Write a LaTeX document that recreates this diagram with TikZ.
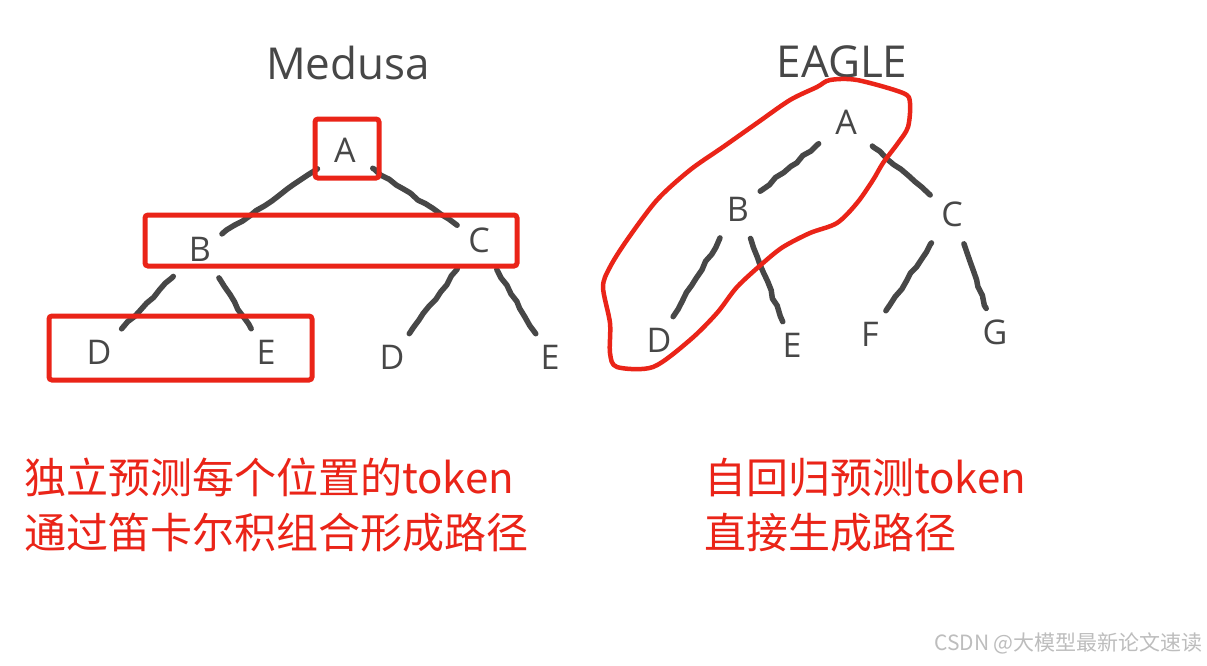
\documentclass[tikz,border=0pt]{standalone}
\usepackage{fontspec}
\setmainfont{Open Sans}
\newfontfamily\cjk{Noto Sans CJK SC}
\usepackage{tikz}
\usetikzlibrary{decorations.pathmorphing}
\definecolor{ink}{HTML}{474747}
\definecolor{pen}{HTML}{EA2418}
\definecolor{mark}{HTML}{BDBDBD}
\tikzset{
  letter/.style={font=\fontsize{34}{34}\selectfont, text=ink, inner sep=10pt},
  title/.style={font=\fontsize{44}{44}\selectfont, text=ink},
  edge/.style={draw=ink, line width=5.5pt, line cap=round, line join=round,
               shorten <=8pt, shorten >=1pt,
               decorate, decoration={random steps, segment length=9pt, amplitude=1.1pt}},
  redbox/.style={draw=pen, line width=5pt, rounded corners=3pt},
  blob/.style={draw=pen, line width=4.5pt, line join=round},
  note/.style={font=\cjk\fontsize{42}{55}\selectfont, text=pen, align=left, anchor=west, inner sep=0pt}
}
\begin{document}
\begin{tikzpicture}[x=1pt, y=-1pt]
  \pgfmathsetseed{11}
  \useasboundingbox[fill=white] (0,0) rectangle (1207,665);
  % Medusa
  \node[title] (mtitle) at (348,63) {Medusa};
  \node[letter] (mA) at (345,150) {A};
  \node[letter] (mB) at (200,249) {B};
  \node[letter] (mC) at (479,240) {C};
  \node[letter] (mD) at (99,352) {D};
  \node[letter] (mE) at (266,352) {E};
  \node[letter] (mD2) at (392,357) {D};
  \node[letter] (mE2) at (550,357) {E};
  \foreach \a/\b in {mA/mB,mA/mC,mB/mD,mB/mE,mC/mD2,mC/mE2} \draw[edge] (\a)--(\b);
  \draw[redbox] (315,119) rectangle (379,178);
  \draw[redbox] (145,215) rectangle (517,266);
  \draw[redbox] (49,316) rectangle (312,380);
  % EAGLE
  \node[title] (etitle) at (842,62) {EAGLE};
  \node[letter] (eA) at (846,122) {A};
  \node[letter] (eB) at (738,209) {B};
  \node[letter] (eC) at (952,214) {C};
  \node[letter] (eD) at (659,340) {D};
  \node[letter] (eE) at (792,345) {E};
  \node[letter] (eF) at (870,334) {F};
  \node[letter] (eG) at (995,332) {G};
  \foreach \a/\b in {eA/eB,eA/eC,eB/eD,eB/eE,eC/eF,eC/eG} \draw[edge] (\a)--(\b);
  \draw[blob] plot[smooth cycle, tension=0.5] coordinates {
    (830,80) (857,80) (903,93) (910,103) (908,127) (898,143) (883,163)
    (873,180) (857,203) (837,223) (810,233) (783,247) (763,263) (737,287)
    (717,313) (690,340) (653,367) (617,367) (610,353) (610,323) (603,287)
    (610,267) (627,240) (657,200) (690,170) (723,147) (757,123) (790,100) (817,87)};
  % notes
  \node[note] (mnote) at (24,505) {独立预测每个位置的token\\通过笛卡尔积组合形成路径};
  \node[note] (enote) at (704,505) {自回归预测token\\直接生成路径};
  \node[font=\cjk\fontsize{21}{21}\selectfont, text=mark, anchor=east, inner sep=0pt] (wm) at (1203,643) {CSDN @大模型最新论文速读};
\end{tikzpicture}
\end{document}
